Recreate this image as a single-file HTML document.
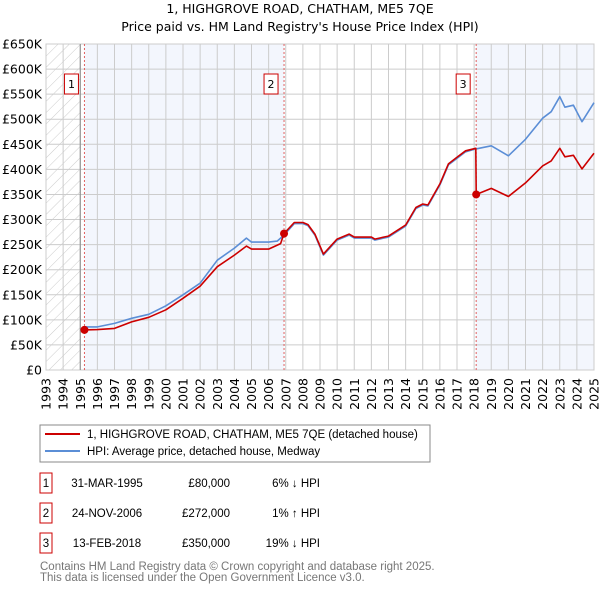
<!DOCTYPE html>
<html><head><meta charset="utf-8"><style>
body{margin:0;background:#fff;font-family:"DejaVu Sans","Liberation Sans",sans-serif;}
#wrap{position:relative;width:600px;height:590px;overflow:hidden}
.ls{font-family:"Liberation Sans",sans-serif}
</style></head><body>
<div id="wrap">
<svg id="chart" width="600" height="590" xmlns="http://www.w3.org/2000/svg" font-family="DejaVu Sans, Liberation Sans, sans-serif">
<defs><pattern id="hatch" width="8" height="8" patternUnits="userSpaceOnUse" patternTransform="rotate(45)"><line x1="0" y1="0" x2="0" y2="8" stroke="#ccc" stroke-width="1"/></pattern></defs>
<text x="300" y="13" text-anchor="middle" font-size="12.5">1, HIGHGROVE ROAD, CHATHAM, ME5 7QE</text>
<text x="300" y="31" text-anchor="middle" font-size="12.5">Price paid vs. HM Land Registry's House Price Index (HPI)</text>
<g id="plot"></g>
<g class="ls">
<rect x="40" y="425" width="390" height="37" fill="#fff" stroke="#888"/>
<line x1="45" y1="434" x2="80" y2="434" stroke="#cc0000" stroke-width="2"/>
<text x="87" y="438" font-size="11.5" font-family="Liberation Sans, sans-serif">1, HIGHGROVE ROAD, CHATHAM, ME5 7QE (detached house)</text>
<line x1="45" y1="451" x2="80" y2="451" stroke="#5b8ed6" stroke-width="2"/>
<text x="87" y="455" font-size="11.5" font-family="Liberation Sans, sans-serif">HPI: Average price, detached house, Medway</text>
</g>
<g id="table" font-size="11.5" font-family="Liberation Sans, sans-serif"></g>
<text x="40" y="570" font-size="11.5" fill="#777" font-family="Liberation Sans, sans-serif">Contains HM Land Registry data © Crown copyright and database right 2025.</text>
<text x="40" y="581" font-size="11.5" fill="#777" font-family="Liberation Sans, sans-serif">This data is licensed under the Open Government Licence v3.0.</text>
</svg>
</div>
<script>
const hpiYears=[1995.25,1996,1997,1998,1999,2000,2001,2002,2003,2004,2004.7,2005,2006,2006.5,2006.9,2007.5,2008,2008.3,2008.7,2009.2,2010,2010.7,2011,2012,2012.2,2013,2014,2014.6,2015,2015.3,2016,2016.5,2017,2017.5,2018,2019,2020,2021,2022,2022.5,2023,2023.3,2023.8,2024.3,2025];
const hpiValues=[86,86,93,103,111,128,150,173,219,243,263,255,255,257,269,292,292,288,269,229,259,269,263,263,259,265,287,322,329,327,369,409,422,435,440,447,427,460,502,515,545,524,528,495,533];
const paidYears=[1995.25,1996,1997,1998,1999,2000,2001,2002,2003,2004,2004.7,2005,2006,2006.7,2006.9,2007.5,2008,2008.3,2008.7,2009.2,2010,2010.7,2011,2012,2012.2,2013,2014,2014.6,2015,2015.3,2016,2016.5,2017,2017.5,2018.1,2018.12,2019,2020,2021,2022,2022.5,2023,2023.3,2023.8,2024.3,2025];
const paidValues=[80,80.5,83,96,105,120,143,167,206,229,247,241,241,252,272,294,294,290,271,231,261,271,265,265,261,267,289,324,331,329,371,411,424,437,442,350,362,346,373,407,417,442,425,428,401,432];
const saleLabels=["1","2","3"];
const saleYears=[1995.245,2006.9,2018.12];
const saleValues=[80,272,350];
const saleDates=["31-MAR-1995","24-NOV-2006","13-FEB-2018"];
const salePrices=["£80,000","£272,000","£350,000"];
const saleDiffs=["6% ↓ HPI","1% ↑ HPI","19% ↓ HPI"];
const yTicks=[0,50,100,150,200,250,300,350,400,450,500,550,600,650];
const xTicks=[1993,1994,1995,1996,1997,1998,1999,2000,2001,2002,2003,2004,2005,2006,2007,2008,2009,2010,2011,2012,2013,2014,2015,2016,2017,2018,2019,2020,2021,2022,2023,2024,2025];

const X0=46,X1=594,Y0=370,Y1=44;
const xs=y=>X0+(y-1993)/(2025-1993)*(X1-X0);
const ys=v=>Y0-v/650*(Y0-Y1);
const NS="http://www.w3.org/2000/svg";
const plot=document.getElementById('plot');
function mk(tag,attrs,parent){const e=document.createElementNS(NS,tag);for(const k in attrs)e.setAttribute(k,attrs[k]);(parent||plot).appendChild(e);return e;}

let r=mk('rect',{x:X0,y:Y1,width:X1-X0,height:Y0-Y1,fill:'#fff'});


r=mk('rect',{x:xs(1993),y:Y1,width:xs(1995)-xs(1993),height:Y0-Y1,fill:'url(#hatch)'});


r=mk('rect',{x:xs(saleYears[0]),y:Y1,width:xs(saleYears[1])-xs(saleYears[0]),height:Y0-Y1,fill:'#f3f6fd'});


r=mk('rect',{x:xs(saleYears[2]),y:Y1,width:X1-xs(saleYears[2]),height:Y0-Y1,fill:'#f3f6fd'});



yTicks.forEach(v=>{
  const l=mk('line',{x1:X0,x2:X1,y1:ys(v*1),y2:ys(v*1),stroke:'#ccc','stroke-width':1});
  
  
  const t=mk('text',{x:X0-4,y:ys(v)+4.5,'text-anchor':'end','font-size':12.5});
  
  
  t.textContent=v===0?'£0':'£'+v+'K';
});
xTicks.forEach(yr=>{
  const l=mk('line',{x1:xs(yr),x2:xs(yr),y1:Y1,y2:Y0,stroke:'#ccc','stroke-width':1});
  
  
  const t=mk('text',{x:0,y:0,'text-anchor':'end','font-size':12.5,transform:`translate(${xs(yr)+4.5},${Y0+8}) rotate(-90)`});
  
  
  t.textContent=yr;
});
const fr=mk('rect',{x:X0,y:Y1,width:X1-X0,height:Y0-Y1,fill:'none',stroke:'#ccc'});


const hb=mk('line',{x1:xs(1995),x2:xs(1995),y1:Y1,y2:Y0,stroke:'#888','stroke-width':1});



saleYears.forEach((yr,i)=>{
  const l=mk('line',{x1:xs(yr),x2:xs(yr),y1:Y1,y2:Y0,stroke:'#e06060','stroke-width':1,'stroke-dasharray':'2,2'});
  
  
});

const pts=(xa,va)=>xa.map((x,i)=>xs(x).toFixed(1)+','+ys(va[i]).toFixed(1)).join(' ');
const hp=mk('polyline',{points:pts(hpiYears,hpiValues),fill:'none',stroke:'#5b8ed6','stroke-width':1.6,'stroke-linejoin':'round'});


const pp=mk('polyline',{points:pts(paidYears,paidValues),fill:'none',stroke:'#cc0000','stroke-width':1.6,'stroke-linejoin':'round'});



saleYears.forEach((yr,i)=>{
  const c=mk('circle',{cx:xs(yr),cy:ys(saleValues[i]),r:4,fill:'#cc0000'});
  
  
  const bx=xs(yr)-13;
  const b=mk('rect',{x:bx-7,y:74,width:14,height:20,fill:'#fff',stroke:'#cc0000'});
  
  
  const t=mk('text',{x:bx,y:88,'text-anchor':'middle','font-size':11});
  
  
  t.textContent=saleLabels[i];
});

const tbl=document.getElementById('table');
saleLabels.forEach((s,i)=>{
  const cy=483+i*30;
  const b=mk('rect',{x:40,y:cy-10,width:12,height:20,fill:'#fff',stroke:'#cc0000'},tbl);
  
  
  const cells=[[46,'middle',s],[107,'middle',saleDates[i]],[230,'end',salePrices[i]],[320,'end',saleDiffs[i]]];
  cells.forEach(([x,a,txt],j)=>{
    const t=mk('text',{x:x,y:cy+4,'text-anchor':a},tbl);
    
    
    t.textContent=txt;
  });
});
</script>
</body></html>
